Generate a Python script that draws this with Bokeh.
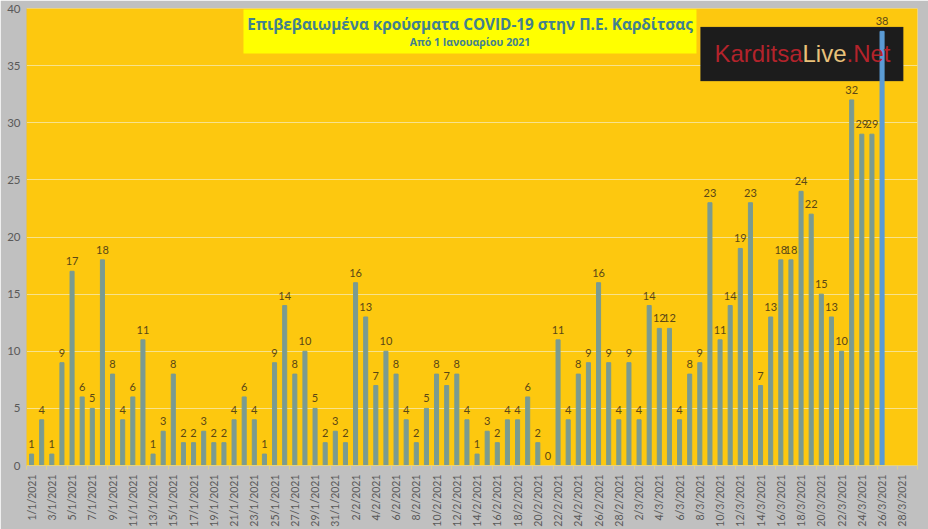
from datetime import date, timedelta
from math import pi
from bokeh.plotting import figure
from bokeh.models import ColumnDataSource, Range1d, FixedTicker, BoxAnnotation, Label, LabelSet
from bokeh.embed import file_html
from bokeh.resources import INLINE
from bokeh.core.properties import value

# daily confirmed cases, 1/1/2021 .. 26/3/2021
cases = [1, 4, 1, 9, 17, 6, 5, 18, 8, 4, 6, 11, 1, 3, 8, 2, 2, 3, 2, 2,
         4, 6, 4, 1, 9, 14, 8, 10, 5, 2, 3, 2, 16, 13, 7, 10, 8, 4, 2, 5,
         8, 7, 8, 4, 1, 3, 2, 4, 4, 6, 2, 0, 11, 4, 8, 9, 16, 9, 4, 9,
         4, 14, 12, 12, 4, 8, 9, 23, 11, 14, 19, 23, 7, 13, 18, 18, 24, 22, 15, 13,
         10, 32, 29, 29, 38]

n_days = 88  # axis runs 1/1/2021 .. 29/3/2021
start = date(2021, 1, 1)
day_labels = [f"{d.day}/{d.month}/{d.year}" for d in (start + timedelta(i) for i in range(n_days))]
tick_idx = list(range(0, n_days - 1, 2))
y_ticks = [0, 5, 10, 15, 20, 25, 30, 35, 40]

title_1 = "Επιβεβαιωμένα κρούσματα COVID-19 στην Π.Ε. Καρδίτσας"
title_2 = "Από 1 Ιανουαρίου 2021"

BAR = "#7A9B91"
LAST = "#5B9BD5"
xs = list(range(len(cases)))
colors = [BAR] * (len(cases) - 1) + [LAST]
src = ColumnDataSource(dict(x=xs, top=cases, color=colors, label=[str(c) for c in cases]))

p = figure(width=928, height=529, output_backend="svg", toolbar_location=None,
           x_range=Range1d(-0.5, n_days - 0.5), y_range=Range1d(0, 40),
           min_border_left=26, min_border_right=11, min_border_top=8, min_border_bottom=63)
p.background_fill_color = "#FDC80F"
p.border_fill_color = "#C0C0C0"
p.outline_line_color = None

# title box
p.add_layout(BoxAnnotation(left=20.93, right=65.67, bottom=36.07, top=39.91,
                           fill_color="#FFFF00", fill_alpha=1, line_color=None, level="underlay"))
p.add_layout(Label(x=43.3, y=38.6, text=title_1, text_align="center", text_baseline="middle",
                   text_font="Open Sans", text_font_style="bold", text_font_size="15.3px",
                   text_color="#42808F"))
p.add_layout(Label(x=43.3, y=37.03, text=title_2, text_align="center", text_baseline="middle",
                   text_font="Open Sans", text_font_style="bold", text_font_size="10.5px",
                   text_color="#42808F"))

# logo
p.add_layout(BoxAnnotation(left=66.07, right=86.09, bottom=33.65, top=38.37,
                           fill_color="#1C1C1C", fill_alpha=1, line_color="#3A3A3A", level="underlay"))
for txt, dx, col in [("Karditsa", 0, "#B3232B"), ("Live", 88, "#E9C17A"), (".Net", 132, "#B3232B")]:
    p.add_layout(Label(x=67.45, y=36.07, x_offset=dx, text=txt, text_align="left", text_baseline="middle",
                       text_font="Liberation Sans", text_font_size="24px", text_color=col))

p.vbar(x="x", top="top", width=0.4, color="color", source=src)
p.add_layout(LabelSet(x="x", y="top", text="label", source=src, text_align="center",
                      text_baseline="bottom", y_offset=6, text_font=value("Lato"),
                      text_font_size="11px", text_color="#5A4716"))

p.xgrid.grid_line_color = None
p.ygrid.grid_line_color = "#F7E28C"
p.ygrid.ticker = FixedTicker(ticks=y_ticks)

yax = p.yaxis[0]
yax.ticker = FixedTicker(ticks=y_ticks)
yax.axis_line_color = "#D9C070"
yax.major_tick_line_color = None
yax.minor_tick_line_color = None
yax.major_tick_out = 0
yax.major_label_standoff = 6
yax.major_label_text_color = "#595959"
yax.major_label_text_font = "Lato"
yax.major_label_text_font_size = "11.5px"

xax = p.xaxis[0]
xax.ticker = FixedTicker(ticks=tick_idx, minor_ticks=[i - 0.5 for i in tick_idx] + [n_days - 0.5])
xax.major_label_overrides = {i: day_labels[i] for i in tick_idx}
xax.major_label_orientation = pi / 2
xax.axis_line_color = "#E9D27A"
xax.major_tick_line_color = None
xax.major_tick_out = 0
xax.major_tick_in = 0
xax.minor_tick_line_color = "#E0D08A"
xax.minor_tick_out = 4
xax.minor_tick_in = 0
xax.major_label_standoff = 5
xax.major_label_text_color = "#595959"
xax.major_label_text_font = "Lato"
xax.major_label_text_font_size = "10.5px"

html = file_html(p, INLINE)
html = html.replace("<body>", '<body style="background-color:#C0C0C0;">', 1)
open("out.html", "w").write(html)
